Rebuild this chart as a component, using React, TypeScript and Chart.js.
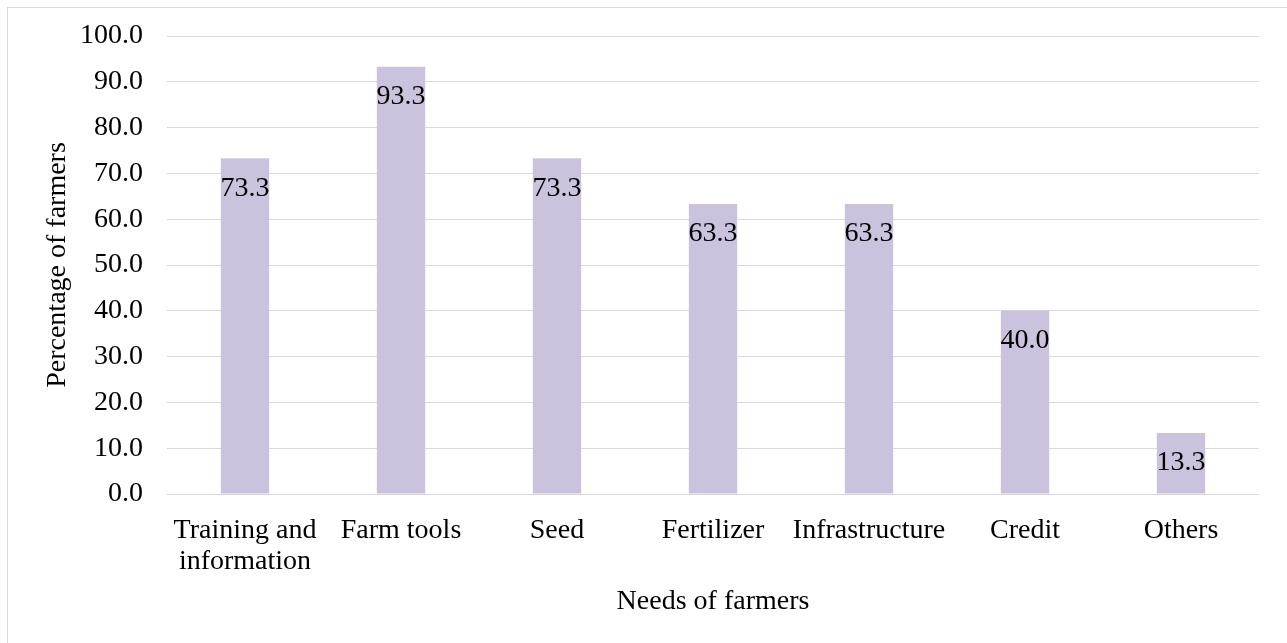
import React, { useEffect, useRef } from "react";
import { Chart, registerables } from "chart.js";

Chart.register(...registerables);

const categories: (string | string[])[] = [
  ["Training and", "information"],
  "Farm tools",
  "Seed",
  "Fertilizer",
  "Infrastructure",
  "Credit",
  "Others",
];
const percentages: number[] = [73.3, 93.3, 73.3, 63.3, 63.3, 40.0, 13.3];

const yTickMin = 0;
const yTickMax = 100;
const yTickStep = 10;

const FONT = "'Liberation Serif', 'Times New Roman', serif";
const FONT_SIZE = 28;
const BAR_COLOR = "rgb(203, 195, 221)";
const GRID_COLOR = "#D9D9D9";

// Outer frame around the whole figure
const framePlugin = {
  id: "frame",
  beforeDraw(chart: Chart) {
    const { ctx } = chart;
    ctx.save();
    ctx.strokeStyle = GRID_COLOR;
    ctx.lineWidth = 1;
    ctx.strokeRect(7.5, 7.5, chart.width + 10, chart.height + 10);
    ctx.restore();
  },
};

// Value labels just inside the top of each bar
const valueLabelPlugin = {
  id: "valueLabels",
  afterDatasetsDraw(chart: Chart) {
    const { ctx } = chart;
    const meta = chart.getDatasetMeta(0);
    const values = chart.data.datasets[0].data as number[];
    ctx.save();
    ctx.font = `${FONT_SIZE}px ${FONT}`;
    ctx.fillStyle = "#000000";
    ctx.textAlign = "center";
    ctx.textBaseline = "middle";
    meta.data.forEach((bar: any, i: number) => {
      ctx.fillText(values[i].toFixed(1), bar.x, bar.y + 30);
    });
    ctx.restore();
  },
};

export default function App() {
  const canvasRef = useRef<HTMLCanvasElement | null>(null);

  useEffect(() => {
    if (!canvasRef.current) return;
    const chart = new Chart(canvasRef.current, {
      type: "bar",
      data: {
        labels: categories,
        datasets: [
          {
            data: percentages,
            backgroundColor: BAR_COLOR,
            borderWidth: 0,
            barPercentage: 0.31,
            categoryPercentage: 1,
          },
        ],
      },
      options: {
        responsive: false,
        animation: false,
        layout: { padding: { top: 36, right: 28, bottom: 0, left: 0 } },
        plugins: {
          legend: { display: false },
          tooltip: { enabled: false },
        },
        scales: {
          x: {
            grid: { display: false },
            border: { display: false },
            ticks: {
              color: "#000000",
              font: { family: FONT, size: FONT_SIZE, lineHeight: 1.1 },
              padding: 13,
              maxRotation: 0,
              autoSkip: false,
            },
            title: {
              display: true,
              text: "Needs of farmers",
              color: "#000000",
              font: { family: FONT, size: FONT_SIZE },
              padding: { top: 0, bottom: 25 },
            },
            afterFit(scale: any) {
              scale.height = 149;
            },
          },
          y: {
            min: yTickMin,
            max: yTickMax,
            grid: { color: GRID_COLOR, lineWidth: 1, drawTicks: false },
            border: { display: false },
            ticks: {
              stepSize: yTickStep,
              color: "#000000",
              font: { family: FONT, size: FONT_SIZE },
              padding: 24,
              callback: (v: any) => Number(v).toFixed(1),
            },
            title: {
              display: true,
              text: "Percentage of farmers",
              color: "#000000",
              font: { family: FONT, size: FONT_SIZE },
              padding: { top: 41, bottom: 0 },
            },
            afterFit(scale: any) {
              scale.width = 167;
              // the layout padding already leaves room for the end labels
              scale.paddingTop = 0;
              scale.paddingBottom = 0;
            },
          },
        },
      },
      plugins: [framePlugin, valueLabelPlugin],
    });
    return () => chart.destroy();
  }, []);

  return (
    <div style={{ position: "fixed", left: 0, top: 0, width: 1287, height: 643, background: "#ffffff" }}>
      <canvas ref={canvasRef} width={1287} height={643} />
    </div>
  );
}
